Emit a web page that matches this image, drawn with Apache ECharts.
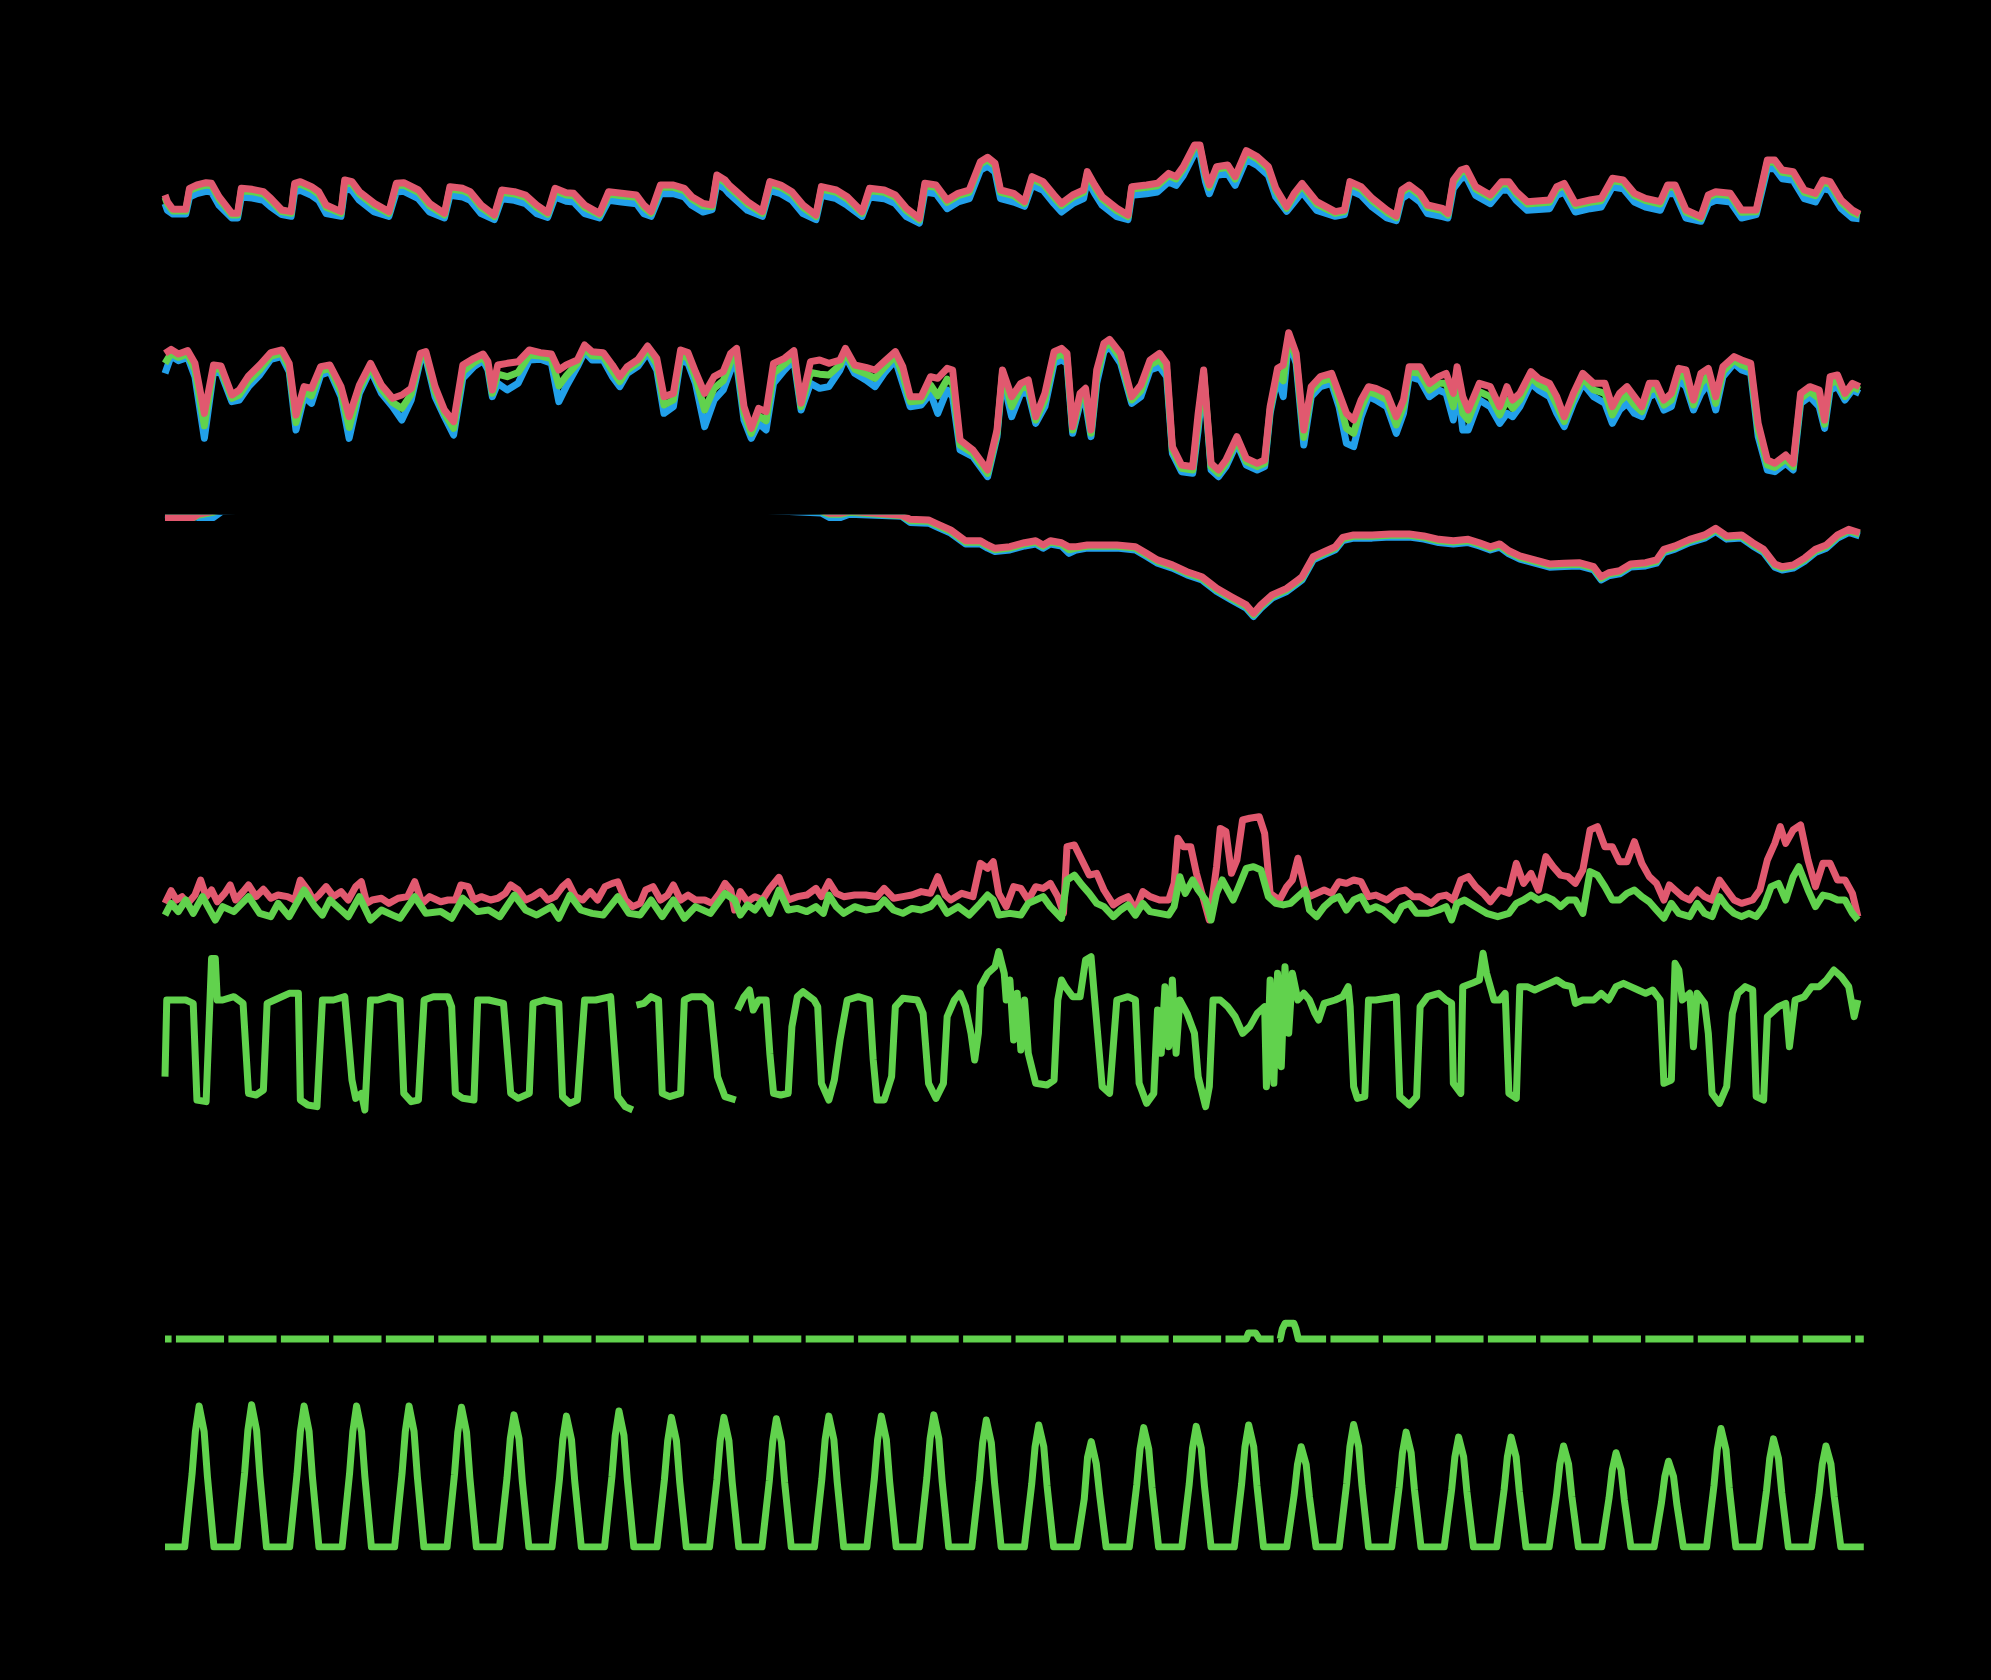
<!DOCTYPE html>
<html>
<head>
<meta charset="utf-8">
<script src="https://cdn.jsdelivr.net/npm/echarts@6.0.0/dist/echarts.min.js"></script>
<style>
html,body{margin:0;padding:0;background:#000;}
#c{width:1991px;height:1680px;}
</style>
</head>
<body>
<div id="c"></div>
<script>
// ---------- Temperature (°C) ----------
const tempT = [0,1.1,3.6,9.5,11.2,14.6,18.8,21.3,24.7,30.6,33.2,34.9,39.9,45.0,48.4,53.4,57.7,59.3,61.9,67.0,70.3,73.7,80.5,82.2,85.5,88.9,95.7,102.4,105.8,109.2,115.9,121.0,127.8,130.3,136.2,139.6,144.6,150.6,154.0,159.8,164.9,170.0,175.0,178.4,183.5,186.9,191.9,198.7,202.9,208.8,215.6,219.0,222.3,226.6,232.5,237.5,240.9,246.0,250.2,252.4,256.1,258.0,261.4,266.4,273.2,276.6,281.6,286.7,291.8,297.7,300.2,307.0,312.0,318.8,322.2,328.9,334.0,339.1,345.0,347.5,352.6,357.7,362.7,367.8,372.9,376.2,379.6,382.1,388.1,393.1,396.5,401.6,406.6,410.0,415.1,420.1,421.8,425.2,428.6,435.3,440.4,442.1,448.9,453.9,459.0,462.4,465.7,470.8,473.3,475.9,477.6,480.9,486.0,489.4,494.5,499.5,504.6,508.0,513.0,516.4,520.0,526.7,535.2,539.4,541.9,547.0,552.1,558.8,563.1,565.6,569.0,574.0,577.4,584.2,586.7,589.2,592.6,595.1,599.4,606.1,611.2,614.6,618.0,623.0,633.2,636.5,639.9,645.0,651.7,656.8,661.9,666.9,672.0,677.1,683.8,687.2,690.6,695.6,702.4,705.8,709.2,715.9,721.0,727.7,732.8,736.2,739.6,744.6,749.7,754.8,758.2,761.5,766.6,771.7,775.0];
const tempRed = [10.5,8.5,6.2,6.2,12.5,13.5,14.2,14.0,10.0,5.0,
5.0,12.5,12.2,11.5,9.5,6.0,5.5,14.0,14.5,13.0,
11.5,7.5,5.5,15.0,14.5,11.5,8.0,5.5,14.0,14.2,
12.0,8.0,5.0,13.0,12.5,11.5,7.5,4.5,12.0,11.5,
10.5,7.5,5.2,12.5,11.2,11.0,7.5,5.0,11.5,11.0,
10.5,7.5,5.5,13.5,13.5,12.5,10.0,8.0,7.5,16.5,
15.0,13.5,11.5,8.5,5.5,14.5,13.5,11.5,7.5,4.5,
13.0,12.0,10.0,5.5,12.5,12.0,10.5,6.5,3.5,14.0,
13.5,9.0,11.0,12.0,20.5,21.8,20.0,12.0,11.0,8.5,
16.0,14.5,10.5,8.0,10.5,12.0,17.5,13.5,10.0,6.5,
4.5,13.0,13.5,14.0,17.0,16.0,19.0,25.5,25.5,17.0,
13.5,19.0,19.5,16.0,23.8,22.0,19.0,12.5,7.0,11.0,
14.0,8.5,5.5,6.0,14.5,13.0,9.5,6.0,4.2,12.0,
13.5,11.0,7.5,6.5,5.0,15.0,18.0,18.5,13.0,10.5,
14.5,14.5,11.5,8.5,9.0,13.0,14.0,8.0,9.0,9.5,
15.5,15.0,11.0,9.5,8.5,13.5,13.5,6.0,4.0,10.5,
11.5,11.0,6.0,6.0,21.0,21.0,18.0,17.5,12.0,11.0,
15.0,14.5,9.0,6.0,4.8];
const tempGreen = [9.8,7.8,5.7,5.7,11.8,12.8,13.5,13.3,9.3,4.5,
4.5,11.8,11.5,10.8,8.8,5.5,5.0,13.3,13.8,12.3,
10.8,6.8,5.0,14.3,13.8,10.8,7.3,5.0,13.3,13.5,
11.3,7.3,4.5,12.3,11.8,10.8,6.8,4.0,11.3,10.8,
9.8,6.8,4.7,11.8,10.5,10.3,6.8,4.5,10.8,10.3,
9.8,6.8,5.0,12.8,12.8,11.8,9.3,7.3,7.0,15.8,
14.3,12.8,10.8,7.8,5.0,13.8,12.8,10.8,6.8,4.0,
12.3,11.3,9.3,5.0,11.8,11.3,9.8,5.8,3.0,13.3,
12.8,8.3,10.3,11.3,19.8,21.1,19.3,11.3,10.3,8.0,
15.3,13.8,9.8,7.3,9.8,11.3,16.8,12.8,9.3,5.8,
4.0,12.3,12.8,13.3,16.3,15.3,18.3,24.8,24.8,16.3,
12.8,18.3,18.8,15.3,23.1,21.3,18.3,11.8,6.5,10.3,
13.3,7.8,5.0,5.5,13.8,12.3,8.8,5.3,3.7,11.3,
12.8,10.3,6.8,5.8,4.5,14.3,17.3,17.8,12.3,9.8,
13.8,13.8,10.8,7.8,8.3,12.3,13.3,7.3,8.3,8.8,
14.8,14.3,10.3,8.8,7.8,12.8,12.8,5.3,3.5,9.8,
10.8,10.3,5.3,5.5,20.3,20.3,17.3,16.8,11.3,10.3,
14.3,13.8,8.3,5.3,4.3];
const tempBlue = [7.9,5.9,4.8,4.8,9.9,10.9,11.6,11.4,7.4,3.6,
3.6,9.9,9.6,8.9,6.9,4.6,4.1,11.4,11.9,10.4,
8.9,4.9,4.1,12.4,11.9,8.9,5.4,4.1,11.4,11.6,
9.4,5.4,3.6,10.4,9.9,8.9,4.9,3.1,9.4,8.9,
7.9,4.9,3.8,9.9,8.6,8.4,4.9,3.6,8.9,8.4,
7.9,4.9,4.1,10.9,10.9,9.9,7.4,5.4,6.1,13.9,
12.4,10.9,8.9,5.9,4.1,11.9,10.9,8.9,4.9,3.1,
10.4,9.4,7.4,4.1,9.9,9.4,7.9,4.0,2.1,11.4,
10.9,6.4,8.4,9.4,17.9,19.2,17.4,9.4,8.4,7.1,
13.4,11.9,7.9,5.4,7.9,9.4,14.9,10.9,7.4,4.0,
3.1,10.4,10.9,11.4,14.4,13.4,16.4,22.9,22.9,14.4,
10.9,16.4,16.9,13.4,21.2,19.4,16.4,9.9,5.6,8.4,
11.4,5.9,4.1,4.6,11.9,10.4,6.9,3.6,2.8,9.4,
10.9,8.4,4.9,4.0,3.6,12.4,15.4,15.9,10.4,7.9,
11.9,11.9,8.9,5.9,6.4,10.4,11.4,5.4,6.4,6.9,
12.9,12.4,8.4,6.9,5.9,10.9,10.9,3.6,2.6,7.9,
8.9,8.4,3.6,4.6,18.4,18.4,15.4,14.9,9.4,8.4,
12.4,11.9,6.4,3.6,3.4];

// ---------- Humidity (%) ----------
const humT = [0,2.8,6.1,10.4,13.7,18.0,22.2,25.6,30.6,34.0,
38.2,43.3,48.4,53.4,56.8,59.9,63.6,67.0,71.2,75.4,
80.5,84.2,88.9,94.0,99.0,104.1,108.3,112.6,116.8,119.3,
123.5,127.8,132.0,136.2,141.3,145.5,147.7,149.7,152.2,156.5,
161.5,166.6,171.7,176.7,180.1,183.5,188.6,191.9,195.3,200.4,
204.6,208.0,211.4,216.4,220.7,224.9,228.2,232.5,235.8,239.2,
242.6,246.8,251.1,255.3,258.7,
261.4,264.8,268.1,271.5,274.9,278.3,283.3,287.6,290.9,295.2,
299.4,303.6,308.7,311.2,315.4,320.5,324.7,328.9,334.0,337.4,
340.8,345.8,350.1,353.4,357.7,360.2,363.6,369.5,376.2,380.5,
383.0,387.2,391.4,394.8,398.2,402.4,406.6,410.0,412.5,415.1,
418.5,421.0,423.5,426.1,429.4,432.0,437.0,442.1,446.3,450.5,
454.8,458.1,460.7,464.9,470.0,472.5,475.0,478.4,481.8,485.2,
490.2,494.5,499.5,502.9,505.4,508.8,511.4,513.9,517.3,520.8,
524.2,528.4,533.5,536.9,540.3,543.6,547.0,550.4,553.8,558.8,
563.1,566.4,569.0,574.0,578.3,582.5,585.9,589.2,590.9,593.5,
596.0,601.1,606.1,610.4,613.7,616.3,619.6,624.7,628.1,633.2,
636.5,639.9,644.1,648.4,653.4,658.5,661.9,665.2,668.6,672.0,
675.4,678.8,682.1,685.5,688.9,692.3,695.6,699.0,702.4,705.8,
709.2,712.5,717.6,721.0,725.2,728.6,732.8,736.2,741.2,744.6,
748.0,752.2,756.5,759.0,761.5,764.9,768.3,771.7,775.0];
const humRed = [86,88.4,85.6,87.6,80,50,79,78.4,61,64,
72.4,79,86.4,88,80,49,66,65,78,79,
66,48,67,80,67,59,61,65,86,87,
66,52,45,79,83,85.6,81,64,79,80,
81,88,86.4,85.6,76,79,82,91,87,86.4,
79,72,78,82.4,90.4,83,60,62,88,86.4,
75,62,72,75,86,
89,54,41,53,51,80,83,87.6,56,81,
82,80,82,89,79,77.6,76,81,87,78,
60,60,72,71,77,76,34,28,16,40,
76,60,68,70,48,62,87,89,86,42,
62,65,40,76,92,94.4,86,60,67,82,
86,80,30,19,18,50,76,20,16,22,
36,23,20,22,54,77,79,98.4,86,40,
66,72,74,62,50,46,58,66,65,62,
48,58,78,78,68,72,74,62,78,60,
52,68,66,54,66,58,62,75,71,68,
60,48,62,74,68,68,54,62,66,60,
54,68,68,58,62,77,76,58,74,77,
60,78,84,82,80,44,22,20,25,20,
62,66,64,46,72,73,62,68,66];
const humGreen = [80,86,83.6,85.6,76,42.5,77,76.2,59,61,
69.2,76,84.4,86,77.5,44.5,63,60.5,75.5,77,
63,41.5,64.5,78,64.5,56.5,53,61.5,84,85,
63,50,41,75,80.5,83.6,78.5,62,73.5,72,
74.5,85,84.4,82.8,66.5,72.5,80,89,84.5,84.2,
75.5,69,76,80.4,88.4,79.5,55,58,85,83.2,
71.5,52,65,69.5,81,
84.5,50,38,48.5,45.5,74,79.5,84.8,54,74.5,
73.5,73,79,86.5,76.5,73.8,71,77.5,84.5,73,
57,57.5,67,60.5,70.5,68,31,26,14,38,
74,54,65,66,46,58,83.5,85.5,83,40,
59,60.5,38,72,89.5,92.2,83,58,63.5,79,
82,76,28,17,16,45,74,18,14,20,
34,21,18,20,52,74.5,69.5,96.2,83,35.5,
63,69,71,58,41,38,53,63,61.5,58,
43,54,75,74,64,68,68,54,73,50,
46,63,60,49,58,53,58,71.5,67.5,64,
55,45,59,71,64,62,49,57,61,55,
51,64,65,55,58,73.5,71,55,68,72.5,
56,75,82,79,77,40,19,17.5,22.5,18,
59,63,59,43.5,68,69.5,60,66,64];
const humBlue = [74,84.4,81.6,83.6,72,35,75,74,57,58,
66,73,82.4,84,75,40,60,56,73,75,
60,35,62,76,62,54,46,58,82,83,
60,48,37,71,78,81.6,76,60,68,64,
68,82,82.4,80,57,66,78,87,82,82,
72,66,74,78.4,86.4,76,50,54,82,80,
68,42,58,64,76,
80,46,35,44,40,68,76,82,52,68,
65,66,76,84,74,70,66,74,82,68,
54,55,62,50,64,60,28,24,12,36,
72,48,62,62,44,54,80,82,80,38,
56,56,36,68,87,90,80,56,60,76,
78,72,26,15,14,40,72,16,12,18,
32,19,16,18,50,72,60,94,80,31,
60,66,68,54,32,30,48,60,58,54,
38,50,72,70,60,64,62,46,68,40,
40,58,54,44,50,48,54,68,64,60,
50,42,56,68,60,56,44,52,56,50,
48,60,62,52,54,70,66,52,62,68,
52,72,80,76,74,36,16,15,20,16,
56,60,54,41,64,66,58,64,62];

// ---------- Pressure (hPa) ----------
const presT = [0,13,15,22,26,60,120,200,260,300,304,309,313,337,
340.8,349.2,352.6,359.3,366.1,372.9,376.2,379.6,386.4,393.1,
398.2,401.6,404.9,410.0,413.4,416.8,421.8,426.9,435.3,443.8,
448.9,453.9,460.7,467.4,474.2,481.0,487.7,494.5,497.8,501.2,
506.3,513.0,518.1,520.0,525.1,530.1,535.2,538.6,543.6,552.1,
560.5,569.0,575.7,582.5,589.2,596.0,601.1,606.1,610.4,614.6,
619.6,626.4,633.2,639.9,646.7,653.4,656.8,660.2,665.2,670.3,
677.1,682.1,685.5,690.6,697.3,704.1,709.2,714.2,721.0,726.1,
731.1,736.2,739.6,744.6,749.7,754.8,759.8,764.9,770.0,775.0];
const presRed = [1030.4,1030.4,1032,1033.5,1035,1037,1038,1037,1036,1034,1032.5,1032.5,1033.5,1031.5,
1029.5,1029.2,1027.5,1024.2,1018.8,1018.8,1016.7,1015,1015.8,1017.8,
1018.8,1016.7,1018.8,1017.8,1015.8,1015.8,1016.7,1016.7,1016.7,1015.8,
1012.5,1009.2,1006.7,1003.3,1000.8,995,990.8,986.7,982.5,986.7,
991.7,995,999.2,1000.8,1010.8,1013.3,1015.8,1020.5,1021.7,1021.7,
1022.2,1022.2,1021.2,1019.5,1018.8,1019.5,1017.8,1015.8,1017.2,1013.8,
1011.2,1009.2,1007.2,1007.5,1007.8,1005.8,1000.8,1002.8,1003.8,1007.2,
1007.8,1009.2,1014.5,1016.2,1019.5,1021.7,1025,1021.2,1021.7,1017.8,
1014.5,1007.2,1005.8,1006.7,1010,1014.5,1016.7,1021.7,1024.5,1022.8];
const presGreen = [1030.4,1030.4,1031.5,1033,1034.5,1036.5,1037.5,1036.5,1035.5,1033.5,1032,1032,1033,1031.3,
1028.8,1028.5,1026.8,1023.5,1018.1,1018.1,1016,1014.3,1015.1,1017.1,
1018.1,1016,1018.1,1017.1,1014.3,1015.1,1016,1016,1016,1015.1,
1011.8,1008.5,1006,1002.6,1000.1,994.3,990.1,986,981.8,986,
991,994.3,998.5,1000.1,1010.1,1012.6,1015.1,1019.8,1021,1021,
1021.5,1021.5,1020.5,1018.8,1018.1,1018.8,1017.1,1015.1,1016.5,1013.1,
1010.5,1008.5,1006.5,1006.8,1007.1,1005.1,1000.1,1002.1,1003.1,1006.5,
1007.1,1008.5,1013.8,1015.5,1018.8,1021,1024.3,1020.5,1021,1017.1,
1013.8,1006.5,1005.1,1006,1009.3,1013.8,1016,1021,1023.8,1022.1];
const presBlue = [1031.8,1031.2,1030.4,1030.4,1033.5,1035.7,1036.7,1035.7,1034.7,1032.7,1030.4,1030.4,1032,1031.0,
1027.9,1027.6,1025.9,1022.6,1017.2,1017.2,1015.1,1013.4,1014.2,1016.2,
1017.2,1015.1,1017.2,1016.2,1012.5,1014.2,1015.1,1015.1,1015.1,1014.2,
1010.9,1007.6,1005.1,1001.7,999.2,993.4,989.2,985.1,980.9,985.1,
990.1,993.4,997.6,999.2,1009.2,1011.7,1014.2,1018.9,1020.1,1020.1,
1020.6,1020.6,1019.6,1017.9,1017.2,1017.9,1016.2,1014.2,1015.6,1012.2,
1009.6,1007.6,1005.6,1005.9,1006.2,1004.2,999.2,1001.2,1002.2,1005.6,
1006.2,1007.6,1012.9,1014.6,1017.9,1020.1,1023.4,1019.6,1020.1,1016.2,
1012.9,1005.6,1004.2,1005.1,1008.4,1012.9,1015.1,1020.1,1022.9,1021.2];

// ---------- Wind gust / speed (km/h) ----------
const gustT = [0,2.8,5.3,7.8,10.4,13.7,16.3,18.8,21.3,23.9,27.3,29.8,32.3,35.7,38.2,41.6,45.0,48.4,51.7,56.0,59.3,61.9,65.3,67.8,70.3,73.7,77.1,80.5,83.8,87.2,89.8,92.3,94.8,99.0,102.4,106.6,110.9,114.2,117.6,121.0,126.1,129.4,132.8,135.3,138.7,141.3,144.6,148.9,152.2,155.6,158.1,161.5,164.9,168.3,171.7,175.0,178.4,181.8,184.3,187.7,191.1,194.5,197.8,201.2,204.6,207.1,210.5,213.9,217.3,219.8,223.2,226.6,229.9,232.5,235.8,239.2,242.6,246.8,250.2,253.6,256.1,258.7,
260.5,263.1,266.4,269.8,273.2,276.6,280.8,285.0,289.2,293.5,297.7,300.2,303.6,307.0,310.4,315.4,320.5,325.6,328.9,333.2,337.4,341.6,345.8,350.1,353.4,356.8,359.3,364.4,369.5,372.9,376.2,378.8,381.3,384.7,388.1,391.4,394.8,398.2,401.6,404.9,408.3,410.9,412.5,415.9,419.3,422.7,426.1,429.4,433.7,437.0,440.4,443.8,447.2,450.5,454.8,459.0,461.5,463.2,465.7,469.1,471.7,474.2,477.6,480.9,482.6,485.2,487.7,490.2,492.8,496.1,500.4,502.9,505.4,509.7,513.0,515.6,518.1,521.5,
523.4,526.7,530.1,533.5,536.9,540.3,543.6,547.0,550.4,553.8,558.8,563.9,567.3,570.7,574.0,579.1,582.5,585.9,589.2,592.6,596.0,599.4,602.8,606.1,610.4,614.6,618.0,621.3,624.7,628.1,631.5,634.8,638.2,641.6,645.0,648.4,651.7,655.1,658.5,661.9,665.2,668.6,672.0,675.4,678.8,682.1,685.5,688.0,690.6,694.0,697.3,700.7,704.1,707.5,710.9,714.2,717.6,721.0,726.1,729.4,732.8,736.2,738.7,741.2,744.6,748.0,751.4,754.8,758.2,761.5,764.9,768.3,771.7,774.2];
const gustV = [10,14.75,11.25,12.5,10,13.1,18.75,12.5,15,10.6,13.75,16.9,11.25,14.4,16.9,12.5,15.25,11.9,13.1,12.5,11.25,18.75,15,11.25,13.1,16.25,12.5,14.4,11.25,16.25,18.1,10,11.25,11.9,10,11.9,12.5,18.1,10,12.5,10.6,11.25,11.25,16.9,16.25,11.25,12.5,11.25,11.9,13.75,16.9,15,11.25,12.5,14.4,11.25,12.5,16.25,18.1,12.5,11.25,14.4,11.25,16.25,17.5,18.1,11.25,8.75,10,15,16.25,11.25,13.1,16.9,11.25,13.1,11.25,11.25,10,13.75,17.5,15,
7.5,14.4,10.6,12.5,11.25,15.6,19.75,11.25,12.5,13.1,15.6,12.5,18.1,13.75,12.5,13.1,13.1,12.5,15.6,11.9,12.5,13.1,14.4,13.75,20,13.1,11.25,13.75,12.5,25,23.1,25.6,13.75,8.75,16.25,15.6,11.25,16.25,15.6,17.5,12.5,6.25,31.25,31.9,26.25,20.6,21.25,15,9.4,11.25,12.5,7.5,14.4,12.5,11.25,11.25,17.5,34.4,31.25,31.25,21.25,13.75,3.75,23.75,38.1,36.9,21.25,26.25,41.25,41.9,42.5,36.25,13.75,11.25,16.25,18.75,26.9,15,
12.5,13.75,15,13.75,18.1,17.5,18.75,18.1,12.5,13.1,11.25,14.4,15,12.5,12.5,10,12.5,13.1,11.25,18.75,20,16.25,13.75,10.6,15,13.75,25,17.5,21.25,15,27.5,23.75,20.6,20,17.5,22.5,37.5,38.75,31.25,31.25,25.6,25.6,33.1,25,20,17.5,11.25,16.9,15,12.5,11.25,15,12.5,11.25,18.75,15,11.25,10,11.25,15,26.25,32.5,38.75,32.5,37.5,39.4,26.25,16.25,25,25,18.75,18.75,13.75,5];
const speedT = [0,2.8,6.1,9.5,12.9,17.1,23.0,26.4,31.5,38.2,43.3,48.4,51.7,56.8,63.6,68.6,72.0,75.4,80.5,83.8,88.9,94.0,99.0,104.1,107.5,114.2,119.3,126.1,131.1,136.2,143.0,148.0,153.1,159.8,164.9,170.0,176.7,180.1,185.2,190.2,195.3,200.4,207.1,212.2,217.3,222.3,227.4,232.5,237.5,242.6,249.4,256.1,
260.5,263.1,266.4,269.8,273.2,276.6,280.8,285.0,289.2,293.5,297.7,301.1,303.6,307.0,310.4,315.4,320.5,325.6,328.9,333.2,337.4,341.6,345.8,350.1,353.4,357.7,362.7,367.8,372.9,376.2,378.8,381.3,386.4,391.4,394.8,398.2,401.6,404.9,410.0,412.5,415.9,419.3,422.7,426.1,429.4,433.7,437.0,440.4,443.8,447.2,450.5,454.8,459.0,461.5,464.1,466.6,470.0,472.5,475.9,478.4,480.9,483.5,486.0,488.5,491.1,494.5,497.8,501.2,504.6,508.0,511.4,514.7,518.1,521.5,
523.4,526.7,530.1,533.5,536.9,540.3,543.6,547.0,550.4,553.8,557.1,562.2,565.6,569.0,572.4,577.4,582.5,585.9,588.4,590.9,594.3,599.4,604.4,609.5,614.6,618.0,621.3,624.7,628.1,631.5,634.8,638.2,641.6,645.0,648.4,651.7,655.1,658.5,661.9,665.2,668.6,672.0,675.4,678.8,682.1,685.5,688.9,692.3,697.3,700.7,704.1,707.5,710.9,714.2,717.6,721.0,724.4,727.7,731.1,734.5,737.9,741.2,744.6,747.2,751.4,754.8,758.2,761.5,764.9,768.3,771.7,774.2];
const speedV = [5.6,10,6.9,11.25,6.25,12.5,3.75,8.75,6.9,12.5,6.25,5,10,5,15,8.75,5.6,11.25,7.5,5,12.5,3.75,7.5,5.6,4.4,12.5,6.25,6.9,4.4,11.9,6.9,7.5,5,13.1,7.5,5.6,8.75,4.4,13.1,7.5,6.25,5.6,12.5,6.25,5.6,11.25,5,11.25,4.4,8.75,6.25,13.75,
11.25,5.6,9.4,7.5,11.25,6.25,15,7.5,8.1,6.9,8.75,6.25,13.1,8.75,6.25,8.75,7.5,8.1,11.25,7.5,6.25,8.1,7.5,8.75,11.9,6.25,8.75,5.6,10,13.1,11.25,5.6,6.25,5.6,10,11.25,12.5,8.75,4.4,18.75,20.6,16.9,13.75,10,8.75,5,7.5,9.4,5.6,10,6.9,6.25,5.6,8.75,20,13.75,18.75,15,11.25,3.75,13.75,18.75,15,11.25,16.25,23.1,23.75,22.5,12.5,10,9.4,10,12.5,15,
7.5,5,8.75,11.25,12.5,7.5,11.25,12.5,7.5,8.75,7.5,3.75,8.75,10,6.25,6.25,7.5,8.75,3.75,10,11.25,8.75,6.25,5,6.25,10,11.25,13.1,11.25,12.5,11.25,8.75,11.25,11.25,6.25,21.9,20.6,16.25,11.25,11.25,13.75,15,12.5,10.6,7.5,4.4,10,6.25,5,10,6.25,5,12.5,8.75,6.25,5,6.25,5,8.75,16.25,17.5,11.25,20,23.75,15,8.75,13.1,12.5,11.25,11.25,6.25,3.75];

// ---------- Wind direction (deg) ----------
const dirT = [0,0.8,4.5,9.5,12.9,14.6,18.8,20.0,21.3,23.0,23.9,26.4,31.5,35.7,38.2,41.6,45.0,46.7,50.1,56.8,61.0,61.9,65.3,69.5,72.0,77.1,82.2,85.5,87.2,89.8,91.4,94.0,97.4,102.4,107.5,109.2,112.6,115.9,118.5,122.7,129.4,131.1,132.8,136.2,141.3,143.0,148.0,154.8,158.1,161.5,166.6,168.3,173.4,180.1,181.8,185.2,188.6,191.9,197.0,203.8,207.1,210.5,213.9,214.6,215.6,219.0,222.3,225.7,227.4,230.8,235.8,237.5,240.9,246.0,249.4,252.7,256.1,261.0,261.4,
261.8,264.8,267.3,269.0,271.5,274.9,276.6,278.3,281.6,285.0,286.7,289.2,291.8,296.8,298.5,300.2,303.6,306.1,308.7,312.0,317.1,322.2,323.9,325.6,328.9,332.3,334.0,337.4,344.1,346.7,349.2,352.6,356.0,357.7,361.0,363.6,366.1,368.6,370.3,372.0,372.9,376.2,379.6,381.3,383.8,384.7,386.4,388.1,389.7,391.4,393.1,394.8,398.2,403.3,406.6,408.3,410.0,411.7,415.1,418.5,421.0,423.5,425.2,428.6,432.0,435.3,440.4,443.8,445.5,448.9,452.2,453.9,455.6,457.3,459.0,460.7,462.4,464.1,467.4,470.8,472.5,475.9,477.6,479.3,482.6,486.0,489.4,492.8,496.1,499.5,502.9,503.7,505.4,507.1,508.8,510.5,512.2,513.9,515.6,518.1,
520.8,523.4,525.9,527.6,530.1,535.2,538.6,541.1,542.0,543.6,545.3,548.7,550.4,553.8,558.8,563.1,564.7,569.0,572.4,574.0,577.4,582.5,585.9,588.4,589.2,592.6,593.5,597.7,601.1,602.8,604.4,606.1,607.8,610.4,612.9,614.6,618.0,619.6,623.0,626.4,629.8,633.2,636.5,639.9,643.3,645.0,648.4,653.4,656.8,660.2,663.6,667.0,670.3,673.7,677.1,680.4,683.8,685.5,688.9,690.6,692.3,693.9,697.3,699.0,700.7,704.1,705.8,707.5,710.9,714.2,716.8,719.3,722.7,726.1,727.7,731.1,732.8,737.9,741.2,742.9,745.5,749.7,753.1,756.5,759.8,763.2,766.6,770.0,772.5,774.2];
const dirV = [97.5,247,247,247,240.5,52,48.75,182,328,328,247,247,253.5,240.5,65,61.75,71.5,240.5,247,260,260,52,42.25,39,247,247,253.5,91,55.25,65,32.5,247,247,253.5,247,65,48.75,52,247,253.5,253.5,234,65,55.25,52,247,247,240.5,65,55.25,65,240.5,247,240.5,58.5,45.5,52,247,247,253.5,58.5,39,32.5,null,237,240.5,253.5,247,65,58.5,65,247,253.5,253.5,240.5,97.5,58.5,52,null,
227.5,253.5,266.5,227.5,247,247,143,65,61.75,65,195,253.5,263.25,247,234,84.5,52,91,169,247,253.5,247,130,52,52,97.5,234,250.25,247,221,84.5,55.25,84.5,214.5,247,260,234,182,130,182,273,299,312,341.25,299,247,286,169,260,149.5,247,143,84.5,81.25,91,247,286,273,253.5,253.5,325,331.5,247,78,65,247,253.5,247,84.5,45.5,65,227.5,143,273,156,286,143,247,221,182,97.5,39,78,247,247,234,214.5,182,195,221,234,78,286,84.5,299,117,312,182,299,247,
260,247,221,208,240.5,247,253.5,273,234,78,55.25,58.5,247,247,250.25,253.5,58.5,42.25,58.5,234,253.5,260,247,240.5,84.5,65,273,279.5,286,338,299,273,247,247,260,65,55.25,273,273,266.5,273,279.5,286,276.25,273,240.5,247,247,260,247,273,279.5,273,266.5,260,266.5,247,84.5,91,318.5,305.5,247,260,156,260,240.5,182,65,45.5,78,221,260,273,266.5,58.5,52,214.5,234,240.5,156,247,253.5,273,273,286,305.5,292.5,273,214.5,247];

// ---------- Rain (mm) ----------
const rainT = [0,3,4,5,27,28,29,51,52,53,75,76,77,99,100,101,123,124,125,147,148,149,171,172,173,195,196,197,219,220,221,243,244,245,267,268,269,291,292,293,315,316,317,339,340,341,363,364,365,387,388,389,411,412,413,435,436,437,459,460,461,483,484,485,494.5,495.5,498.8,500.5,507,508,509,510,511,512.3,516.2,517.2,518.3,531,532,533,555,556,557,579,580,581,603,604,605,627,628,629,651,652,653,675,676,677,699,700,701,723,724,725,747,748,749,771,772,773,776.9];
const rainV = [0,0,null,0,0,null,0,0,null,0,0,null,0,0,null,0,0,null,0,0,null,0,0,null,0,0,null,0,0,null,0,0,null,0,0,null,0,0,null,0,0,null,0,0,null,0,0,null,0,0,null,0,0,null,0,0,null,0,0,null,0,0,null,0,0,0.95,0.95,0,0,null,0,0,1.6,2.5,2.5,1.6,0,0,null,0,0,null,0,0,null,0,0,null,0,0,null,0,0,null,0,0,null,0,0,null,0,0,null,0,0,null,0,0,null,0,0];

// ---------- Solar radiation (W/m²) ----------
const solarT = [0,
9.0,12.4,13.9,15.6,17.9,19.4,22.4, 33.0,36.4,37.9,39.6,41.9,43.4,46.4, 57.0,60.4,61.9,63.6,65.9,67.4,70.4, 81.0,84.4,85.9,87.6,89.9,91.4,94.4,
105.0,108.4,109.9,111.6,113.9,115.4,118.4, 129.0,132.4,133.9,135.6,137.9,139.4,142.4, 153.0,156.4,157.9,159.6,161.9,163.4,166.4, 177.0,180.4,181.9,183.6,185.9,187.4,190.4,
201.0,204.4,205.9,207.6,209.9,211.4,214.4, 225.0,228.4,229.9,231.6,233.9,235.4,238.4, 249.0,252.4,253.9,255.6,257.9,259.4,262.4, 273.0,276.4,277.9,279.6,281.9,283.4,286.4,
297.0,300.4,301.9,303.6,305.9,307.4,310.4, 321.0,324.4,325.9,327.6,329.9,331.4,334.4, 345.0,348.4,349.9,351.6,353.9,355.4,358.4, 369.0,372.4,373.9,375.6,377.9,379.4,382.4,
393.0,396.4,397.9,399.6,401.9,403.4,406.4, 417.0,420.4,421.9,423.6,425.9,427.4,430.4, 441.0,444.4,445.9,447.6,449.9,451.4,454.4, 465.0,468.4,469.9,471.6,473.9,475.4,478.4,
489.0,492.4,493.9,495.6,497.9,499.4,502.4, 513.0,516.4,517.9,519.6,521.9,523.4,526.4, 537.0,540.4,541.9,543.6,545.9,547.4,550.4, 561.0,564.4,565.9,567.6,569.9,571.4,574.4,
585.0,588.4,589.9,591.6,593.9,595.4,598.4, 609.0,612.4,613.9,615.6,617.9,619.4,622.4, 633.0,636.4,637.9,639.6,641.9,643.4,646.4, 657.0,660.4,661.9,663.6,665.9,667.4,670.4,
681.0,684.4,685.9,687.6,689.9,691.4,694.4, 705.0,708.4,709.9,711.6,713.9,715.4,718.4, 729.0,732.4,733.9,735.6,737.9,739.4,742.4, 753.0,756.4,757.9,759.6,761.9,763.4,766.4,
776.9];
const solarV = [0,
0,458,722,881,722,440,0, 0,462,729,889,729,444,0, 0,458,722,881,722,440,0, 0,458,722,881,722,440,0,
0,458,722,881,722,440,0, 0,454,717,874,717,437,0, 0,430,677,826,677,413,0, 0,425,671,818,671,409,0,
0,442,697,850,697,425,0, 0,421,664,810,664,405,0, 0,421,664,810,664,405,0, 0,417,658,802,658,401,0,
0,425,671,818,671,409,0, 0,425,671,818,671,409,0, 0,430,677,826,677,413,0, 0,413,651,794,651,397,0,
0,397,626,763,626,381,0, 0,300,560,659,520,330,0, 0,388,612,746,612,373,0, 0,392,618,754,618,377,0,
0,397,626,763,626,381,0, 0,326,514,627,514,313,0, 0,398,628,766,628,383,0, 0,373,589,718,589,359,0,
0,357,563,687,563,343,0, 0,357,563,687,563,343,0, 0,328,517,631,517,315,0, 0,306,483,589,483,294,0,
0,279,440,536,440,268,0, 0,385,608,741,608,370,0, 0,352,554,676,554,338,0, 0,328,517,631,517,315,0,
0];

// ---------- chart ----------
const RED = '#E1596F', GREEN = '#61D24D', BLUE = '#22A0EA';
const X_MAX = 777;
const gridBoxes = [
  {top:130, height:100},
  {top:330, height:166.67},
  {top:518.33, height:120},
  {top:796.67, height:133.33},
  {top:942.05, height:184.62},
  {top:1275.5, height:69.85},
  {top:1387, height:160}
];
const yRanges = [[0,30],[0,100],[970,1030],[0,50],[0,360],[-1,10],[0,1000]];

function zip(ts, vs){ return ts.map((t,i)=>[t, vs[i]]); }
function line(idx, ts, vs, color){
  return {type:'line', xAxisIndex:idx, yAxisIndex:idx, data:zip(ts,vs),
    showSymbol:false, symbol:'none', connectNulls:false, clip:true, silent:true,
    lineStyle:{width:7, color:color, join:'round'}, itemStyle:{color:color}, animation:false};
}

const chart = echarts.init(document.getElementById('c'), null, {renderer:'canvas', width:1991, height:1680});
chart.setOption({
  backgroundColor:'#000',
  animation:false,
  grid: gridBoxes.map(g=>({left:165, right:127, top:g.top, height:g.height, containLabel:false})),
  xAxis: gridBoxes.map((g,i)=>({type:'value', gridIndex:i, min:0, max:X_MAX, show:false})),
  yAxis: yRanges.map((r,i)=>({type:'value', gridIndex:i, min:r[0], max:r[1], show:false})),
  series: [
    line(0, tempT, tempBlue, BLUE), line(0, tempT, tempGreen, GREEN), line(0, tempT, tempRed, RED),
    line(1, humT, humBlue, BLUE), line(1, humT, humGreen, GREEN), line(1, humT, humRed, RED),
    line(2, presT, presBlue, BLUE), line(2, presT, presGreen, GREEN), line(2, presT, presRed, RED),
    line(3, gustT, gustV, RED), line(3, speedT, speedV, GREEN),
    line(4, dirT, dirV, GREEN),
    line(5, rainT, rainV, GREEN),
    line(6, solarT, solarV, GREEN)
  ]
});
</script>
</body>
</html>
